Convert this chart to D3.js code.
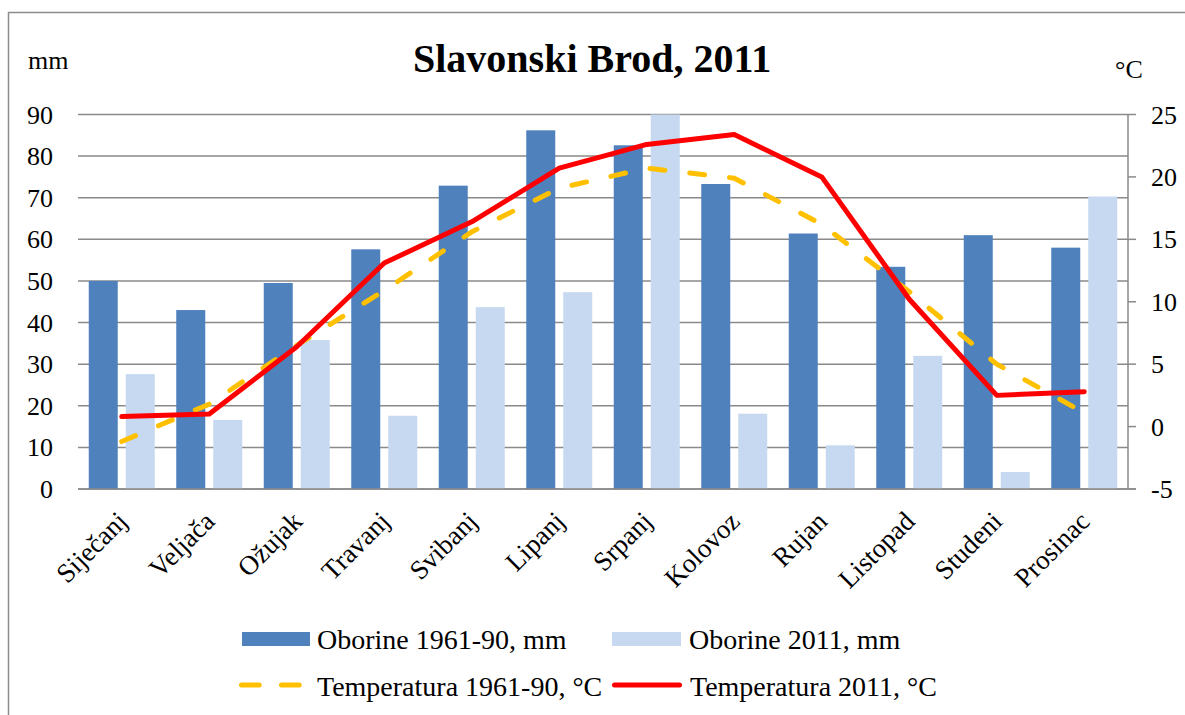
<!DOCTYPE html>
<html>
<head>
<meta charset="utf-8">
<script src="https://cdn.jsdelivr.net/npm/d3@7"></script>
<style>
  body { margin: 0; background: #fff; overflow: hidden; }
  text { font-family: "Liberation Serif", "Times New Roman", serif; fill: #000; }
</style>
</head>
<body>
<svg id="chart" width="1185" height="715"></svg>
<script>
// data
var months = ["Siječanj", "Veljača", "Ožujak", "Travanj", "Svibanj", "Lipanj",
              "Srpanj", "Kolovoz", "Rujan", "Listopad", "Studeni", "Prosinac"];
var rain6190 = [50, 43, 49.5, 57.6, 72.9, 86.2, 82.6, 73.3, 61.4, 53.4, 61, 58];
var rain2011 = [27.6, 16.6, 35.8, 17.6, 43.7, 47.3, 90, 18.1, 10.5, 32, 4.1, 70.3];
var temp6190 = [-1.2, 1.8, 6.5, 10.9, 15.6, 19.1, 20.7, 19.9, 16.2, 10.8, 5.0, 1.1];
var temp2011 = [0.8, 1.0, 6.4, 13.1, 16.4, 20.7, 22.6, 23.4, 20.0, 10.2, 2.5, 2.8];
var mmTicks = [0, 10, 20, 30, 40, 50, 60, 70, 80, 90];
var cTicks = [-5, 0, 5, 10, 15, 20, 25];

var svg = d3.select("#chart");

// outer frame (runs off the right and bottom edges)
svg.append("rect")
    .attr("x", 8.5).attr("y", 12.5)
    .attr("width", 1200).attr("height", 720)
    .attr("fill", "none").attr("stroke", "#8c8c8c").attr("stroke-width", 1.5);

var plotL = 78, plotR = 1128, plotT = 114.5, plotB = 489;

var x = d3.scaleBand().domain(months).range([plotL, plotR]);
var yL = d3.scaleLinear().domain([0, 90]).range([plotB, plotT]);
var yR = d3.scaleLinear().domain([-5, 25]).range([plotB, plotT]);

// gridlines
svg.append("g").selectAll("line")
    .data(mmTicks)
    .enter().append("line")
    .attr("x1", plotL).attr("x2", plotR)
    .attr("y1", function(d) { return yL(d); })
    .attr("y2", function(d) { return yL(d); })
    .attr("stroke", "#8a8a8a").attr("stroke-width", 1.5);

// bars
var barW = 29, gap = 8;
var pad = (x.bandwidth() - 2 * barW - gap) / 2;

svg.append("g").selectAll("rect")
    .data(rain6190)
    .enter().append("rect")
    .attr("x", function(d, i) { return x(months[i]) + pad; })
    .attr("y", function(d) { return yL(d); })
    .attr("width", barW)
    .attr("height", function(d) { return plotB - yL(d); })
    .attr("fill", "#4f81bd");

svg.append("g").selectAll("rect")
    .data(rain2011)
    .enter().append("rect")
    .attr("x", function(d, i) { return x(months[i]) + pad + barW + gap; })
    .attr("y", function(d) { return yL(d); })
    .attr("width", barW)
    .attr("height", function(d) { return plotB - yL(d); })
    .attr("fill", "#c6d9f0");

// axis lines
svg.append("line")
    .attr("x1", plotL).attr("x2", plotR + 8)
    .attr("y1", plotB).attr("y2", plotB)
    .attr("stroke", "#8a8a8a").attr("stroke-width", 1.5);
svg.append("line")
    .attr("x1", plotR).attr("x2", plotR)
    .attr("y1", plotT).attr("y2", plotB)
    .attr("stroke", "#8a8a8a").attr("stroke-width", 1.5);

// temperature lines
var line = d3.line()
    .x(function(d, i) { return x(months[i]) + x.bandwidth() / 2; })
    .y(function(d) { return yR(d); });

svg.append("path")
    .datum(temp6190)
    .attr("d", line)
    .attr("fill", "none")
    .attr("stroke", "#ffc000")
    .attr("stroke-width", 5)
    .attr("stroke-linecap", "round")
    .attr("stroke-dasharray", "15,25");

svg.append("path")
    .datum(temp2011)
    .attr("d", line)
    .attr("fill", "none")
    .attr("stroke", "#ff0000")
    .attr("stroke-width", 5)
    .attr("stroke-linejoin", "round")
    .attr("stroke-linecap", "round");

// left axis labels
svg.append("g").selectAll("text")
    .data(mmTicks)
    .enter().append("text")
    .attr("x", 53)
    .attr("y", function(d) { return yL(d) + 9; })
    .attr("text-anchor", "end")
    .attr("font-size", 26)
    .text(function(d) { return d; });

// right axis ticks + labels
svg.append("g").selectAll("line")
    .data(cTicks)
    .enter().append("line")
    .attr("x1", plotR).attr("x2", plotR + 8)
    .attr("y1", function(d) { return yR(d); })
    .attr("y2", function(d) { return yR(d); })
    .attr("stroke", "#8a8a8a").attr("stroke-width", 1.5);

svg.append("g").selectAll("text")
    .data(cTicks)
    .enter().append("text")
    .attr("x", 1151)
    .attr("y", function(d) { return yR(d) + 9; })
    .attr("font-size", 26)
    .text(function(d) { return d; });

// month labels
svg.append("g").selectAll("text")
    .data(months)
    .enter().append("text")
    .attr("transform", function(d) {
        return "translate(" + (x(d) + x.bandwidth() / 2 + 7) + "," + 523 + ") rotate(-45)";
    })
    .attr("text-anchor", "end")
    .attr("font-size", 27)
    .text(function(d) { return d; });

// titles
svg.append("text")
    .attr("x", 413).attr("y", 72)
    .attr("font-size", 40)
    .attr("font-weight", "bold")
    .text("Slavonski Brod, 2011");
svg.append("text")
    .attr("x", 28).attr("y", 69)
    .attr("font-size", 26)
    .text("mm");
svg.append("text")
    .attr("x", 1115).attr("y", 78)
    .attr("font-size", 26)
    .text("°C");

// legend
var lg = svg.append("g");
function legendText(xp, yp, s) {
    lg.append("text").attr("x", xp).attr("y", yp).attr("font-size", 28).text(s);
}
lg.append("rect").attr("x", 242).attr("y", 632).attr("width", 68).attr("height", 14).attr("fill", "#4f81bd");
legendText(317, 649, "Oborine 1961-90, mm");
lg.append("rect").attr("x", 612).attr("y", 632).attr("width", 69).attr("height", 14).attr("fill", "#c6d9f0");
legendText(689, 649, "Oborine 2011, mm");
lg.append("line").attr("x1", 241.5).attr("x2", 299.5).attr("y1", 685).attr("y2", 685)
    .attr("stroke", "#ffc000").attr("stroke-width", 5).attr("stroke-linecap", "round")
    .attr("stroke-dasharray", "17.7,22.3");
legendText(317, 696, "Temperatura 1961-90, °C");
lg.append("line").attr("x1", 614.5).attr("x2", 679.5).attr("y1", 685).attr("y2", 685)
    .attr("stroke", "#ff0000").attr("stroke-width", 5).attr("stroke-linecap", "round");
legendText(690, 696, "Temperatura 2011, °C");
</script>
</body>
</html>
